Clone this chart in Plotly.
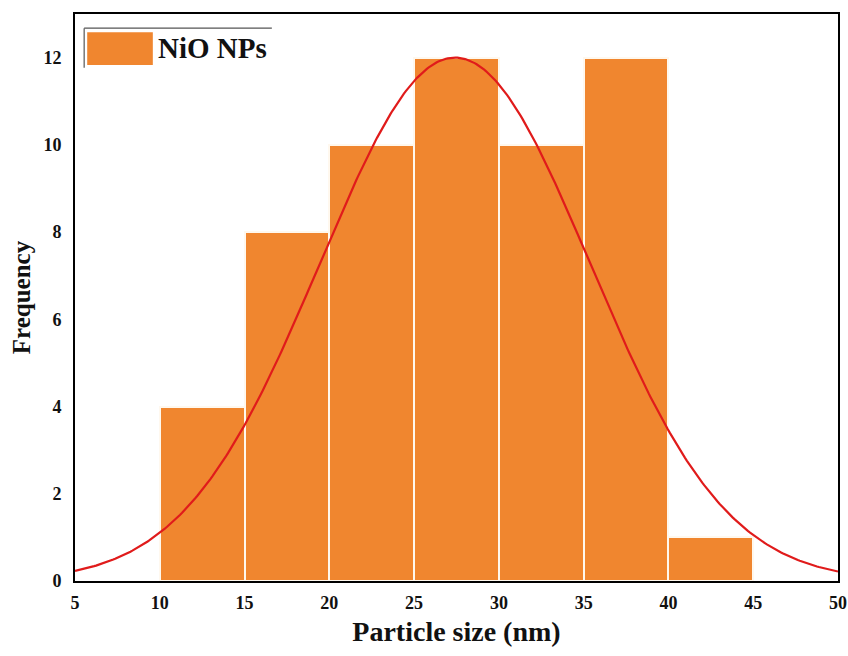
import numpy as np
import plotly.graph_objects as go

# Histogram of particle sizes (nm)
bin_left = [10, 15, 20, 25, 30, 35, 40]
bin_width = 5
counts = [4, 8, 10, 12, 10, 12, 1]

x_ticks = [5, 10, 15, 20, 25, 30, 35, 40, 45, 50]
y_ticks = [0, 2, 4, 6, 8, 10, 12]

bar_color = "#F0862F"
curve_color = "#E01B1B"
font_family = "Liberation Serif, Times New Roman, serif"

centers = np.array(bin_left) + bin_width / 2
w = np.array(counts, dtype=float)
mean = float(np.sum(centers * w) / w.sum())
std = float(np.sqrt(np.sum(w * (centers - mean) ** 2) / w.sum()))
peak = max(counts)

xs = np.linspace(5, 50, 400)
ys = peak * np.exp(-((xs - mean) ** 2) / (2 * std ** 2))

fig = go.Figure()
fig.add_trace(go.Bar(
    x=centers, y=counts, width=bin_width,
    marker=dict(color=bar_color, line=dict(color="#FFF8EE", width=2)),
    name="NiO NPs", showlegend=False,
))
fig.add_trace(go.Scatter(
    x=xs, y=ys, mode="lines",
    line=dict(color=curve_color, width=2.2),
    showlegend=False, hoverinfo="skip",
))

# Legend box drawn in paper coordinates
fig.add_shape(type="line", xref="paper", yref="paper",
              x0=0.012, x1=0.258, y0=0.975, y1=0.975,
              line=dict(color="#555555", width=1.2))
fig.add_shape(type="line", xref="paper", yref="paper",
              x0=0.012, x1=0.012, y0=0.975, y1=0.905,
              line=dict(color="#555555", width=1.2))
fig.add_shape(type="rect", xref="paper", yref="paper",
              x0=0.016, x1=0.102, y0=0.968, y1=0.910,
              fillcolor=bar_color, line=dict(width=0))
fig.add_annotation(xref="paper", yref="paper", x=0.106, y=0.940,
                   xanchor="left", yanchor="middle", showarrow=False,
                   text="<b>NiO NPs</b>",
                   font=dict(family=font_family, size=29, color="#111111"))

fig.update_layout(
    width=848, height=656,
    margin=dict(l=75, r=10, t=14, b=75),
    plot_bgcolor="white", paper_bgcolor="white",
    bargap=0,
    font=dict(family=font_family, color="#111111"),
)
fig.update_xaxes(
    range=[5, 50], tickvals=x_ticks, ticktext=[f"<b>{v}</b>" for v in x_ticks],
    tickfont=dict(size=18), ticks="outside", ticklen=4, tickcolor="rgba(0,0,0,0)",
    showgrid=False, zeroline=False,
    showline=True, linecolor="black", linewidth=2, mirror=True, automargin=False,
    title=dict(text="<b>Particle size (nm)</b>", font=dict(size=28), standoff=10),
)
fig.update_yaxes(
    range=[0, 13], tickvals=y_ticks, ticktext=[f"<b>{v}</b>" for v in y_ticks],
    tickfont=dict(size=18), ticks="outside", ticklen=8, tickcolor="rgba(0,0,0,0)",
    showgrid=False, zeroline=False,
    showline=True, linecolor="black", linewidth=2, mirror=True, automargin=False,
    title=dict(text="<b>Frequency</b>", font=dict(size=25), standoff=6),
)

fig.write_html("out.html")
